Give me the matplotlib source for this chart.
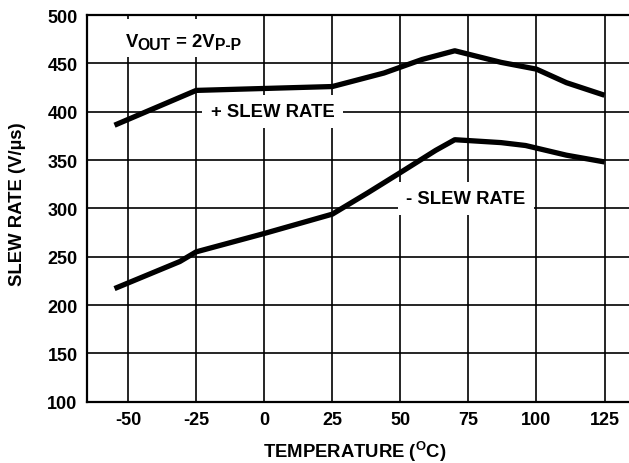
"""Slew rate vs temperature, +/- slew, VOUT = 2Vp-p."""

import matplotlib

matplotlib.use("Agg")
import matplotlib.pyplot as plt
from matplotlib.patches import Rectangle
from matplotlib.transforms import offset_copy

plt.rcParams["font.family"] = ["Liberation Sans", "DejaVu Sans"]
plt.rcParams["font.weight"] = "bold"
plt.rcParams["axes.unicode_minus"] = False
plt.rcParams["mathtext.fontset"] = "custom"
plt.rcParams["mathtext.rm"] = "Liberation Sans:bold"
plt.rcParams["mathtext.it"] = "Liberation Sans:bold"
plt.rcParams["mathtext.bf"] = "Liberation Sans:bold"

# values
temp_pos = [-55, -25, 0, 25, 44, 50, 58, 70, 87, 100, 111, 125]
slew_pos = [386, 422, 424, 426, 440, 446, 454, 463, 451, 444, 430, 417]

temp_neg = [-55, -31, -25, 0, 25, 38, 50, 63, 70, 87, 96, 111, 125]
slew_neg = [217, 245, 255, 274, 294, 316, 337, 360, 371, 368, 365, 355, 348]

x_ticks = [-50, -25, 0, 25, 50, 75, 100, 125]
y_ticks = [100, 150, 200, 250, 300, 350, 400, 450, 500]

# V_OUT = 2V_P-P, as (text, is_subscript)
cond_parts = [("V", False), ("OUT", True), (" = 2V", False), ("P-P", True)]

W, H = 629, 464
fig = plt.figure(figsize=(W / 100, H / 100), dpi=100)
ax = fig.add_axes([87.3 / W, 61.3 / H, (W - 87.3) / W, 386.7 / H])

ax.plot(temp_pos, slew_pos, color="black", linewidth=3.8, solid_capstyle="butt", zorder=3)
ax.plot(temp_neg, slew_neg, color="black", linewidth=3.8, solid_capstyle="butt", zorder=3)

ax.set_xlim(-65, 134)
ax.set_ylim(100, 500)
ax.set_xticks(x_ticks)
ax.set_yticks(y_ticks)
ax.grid(True, color="black", linewidth=1.2)
ax.set_axisbelow(True)
ax.tick_params(length=0, labelsize=13, pad=7)
for lab in ax.get_xticklabels() + ax.get_yticklabels():
    lab.set_fontweight("bold")
for side in ("left", "top", "bottom"):
    ax.spines[side].set_linewidth(1.6)
ax.spines["right"].set_visible(False)

ax.set_xlabel("TEMPERATURE ($^\\mathrm{O}$C)", fontsize=13.3, fontweight="bold",
              va="center")
ax.xaxis.set_label_coords((354.5 - 87.3) / (W - 87.3), (402.7 - 452) / 386.7)
ax.set_ylabel("SLEW RATE (V/\u00b5s)", fontsize=13.3, fontweight="bold", va="center")
ax.yaxis.set_label_coords((17.5 - 87.3) / (W - 87.3), (402.7 - 204) / 386.7)

box = dict(facecolor="white", edgecolor="none", pad=6)
ax.text(3, 400, "+ SLEW RATE", ha="center", va="center", fontsize=13.3,
        fontweight="bold", bbox=box, zorder=4)
ax.text(74, 310, "- SLEW RATE", ha="center", va="center", fontsize=13.3,
        fontweight="bold", bbox=box, zorder=4)

# condition label: white patch behind, then pieces chained left to right
ax.add_patch(Rectangle((-53.5, 456.5), 47, 39.5, facecolor="white", edgecolor="none",
                       zorder=3.5))
fig.canvas.draw()
renderer = fig.canvas.get_renderer()
x0_px = None
for text, sub in cond_parts:
    if x0_px is None:
        t = ax.text(-51, 468.3, text, ha="left", va="baseline", fontsize=13.3,
                    fontweight="bold", zorder=4)
    else:
        trans = offset_copy(ax.transData, fig=fig, x=0, y=-2.2 if sub else 0, units="points")
        xd = ax.transData.inverted().transform((x0_px, 0))[0]
        t = ax.text(xd, 468.3, text, ha="left", va="baseline",
                    fontsize=11.3 if sub else 13.3, fontweight="bold", zorder=4,
                    transform=trans)
    x0_px = t.get_window_extent(renderer).x1

fig.savefig("out.png", dpi=100)
